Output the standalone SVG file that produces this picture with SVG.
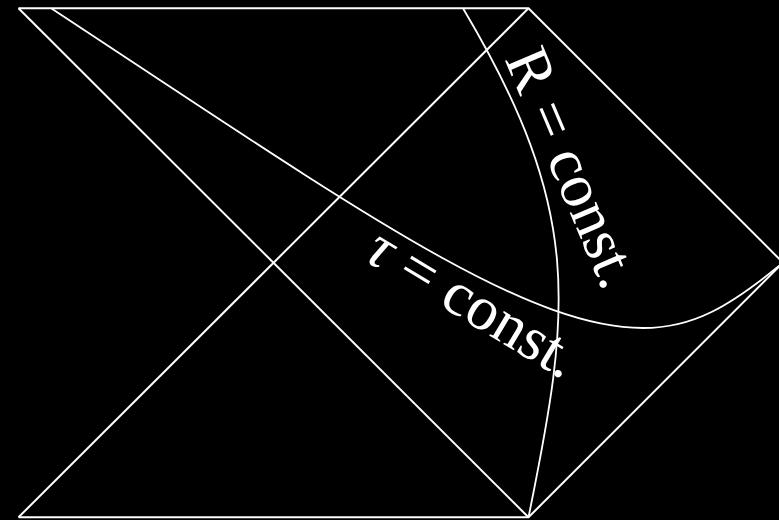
<svg xmlns="http://www.w3.org/2000/svg" width="779" height="520" viewBox="0 0 779 520">
<style>
.ln{fill:none;stroke:#fff;stroke-width:2;stroke-linejoin:miter}
.lb{fill:#fff;font-family:'Liberation Serif','Times New Roman',serif;font-size:62px}
</style>
<rect x="0" y="0" width="779" height="520" fill="#000"/>
<g id="diagram-outline">
<path class="ln" d="M18.5,8.3 H528.5 L783,262.7 L528.5,517.3 H18.5"/>
<path class="ln" d="M18.5,8.3 L528.5,517.3"/>
<path class="ln" d="M18.5,517.3 L528.5,8.3"/>
</g>
<g id="curves">
<path id="R-curve" class="ln" style="stroke-width:1.8" d="M463,8.3 C584,212 571,308 528.5,517.3"/>
<path id="tau-curve" class="ln" style="stroke-width:1.8" d="M51.5,8.5 C351.5,206 523,328 643,328 C693,328 729,307 783,262.7"/>
</g>
<g id="label-R">
<text class="lb" text-anchor="end" transform="translate(603.5,292.4) rotate(67)">R = const.</text>
</g>
<g id="label-tau">
<text class="lb" text-anchor="end" transform="translate(563.2,380) rotate(31)"><tspan font-style="italic">τ</tspan> = const.</text>
</g>
</svg>
